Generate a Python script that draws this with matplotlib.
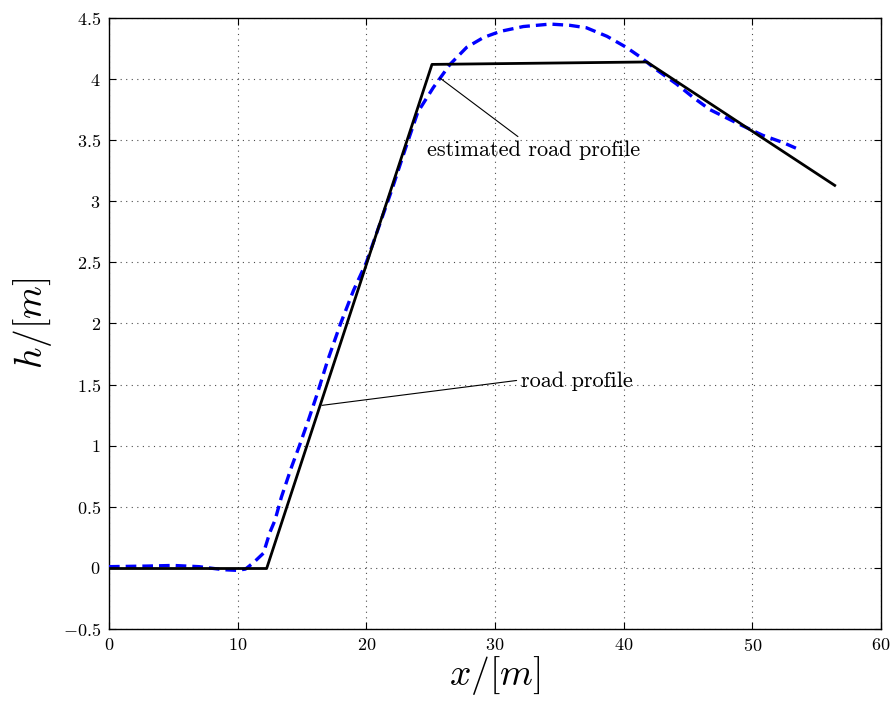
import matplotlib
matplotlib.use("Agg")
import matplotlib.pyplot as plt

plt.rcParams["font.family"] = "serif"
plt.rcParams["font.serif"] = ["cmr10", "DejaVu Serif"]
plt.rcParams["mathtext.fontset"] = "cm"
plt.rcParams["axes.formatter.use_mathtext"] = True

# road profile (piecewise linear)
road_x = [0.0, 12.25, 25.1, 41.8, 56.4]
road_h = [-0.005, -0.005, 4.12, 4.14, 3.13]

# estimated road profile
est_x = [0.0, 3.0, 5.0, 7.0, 8.9, 9.9, 10.6, 11.2, 12.0, 12.5, 12.9, 13.4, 14.2,
         14.8, 15.5, 16.2, 17.0, 18.0, 19.0, 20.0, 21.0, 22.0, 23.0, 24.0, 25.2,
         26.5, 27.8, 29.1, 30.4, 32.2, 34.3, 35.8, 37.1, 38.7, 40.2, 41.3, 42.5,
         44.1, 45.4, 46.7, 48.8, 50.8, 52.4, 53.7]
est_h = [0.01, 0.015, 0.02, 0.01, -0.015, -0.02, -0.01, 0.04, 0.12, 0.29, 0.39, 0.58, 0.83,
         1.0, 1.21, 1.43, 1.70, 2.0, 2.27, 2.5, 2.8, 3.1, 3.42, 3.73, 3.93,
         4.12, 4.26, 4.34, 4.39, 4.43, 4.45, 4.44, 4.42, 4.35, 4.26, 4.18, 4.08,
         3.96, 3.85, 3.75, 3.64, 3.54, 3.48, 3.42]

xticks = [0, 10, 20, 30, 40, 50, 60]
yticks = [-0.5, 0, 0.5, 1, 1.5, 2, 2.5, 3, 3.5, 4, 4.5]

fig = plt.figure(figsize=(8.95, 7.02), dpi=100)
ax = fig.add_axes([0.1218, 0.104, 0.8626, 0.8704])

ax.plot(est_x, est_h, color="blue", lw=2.4, ls=(0, (3.2, 1.8)), zorder=3)
ax.plot(road_x, road_h, color="black", lw=2.0, zorder=4)

ax.set_xlim(0, 60)
ax.set_ylim(-0.5, 4.5)
ax.set_xticks(xticks)
ax.set_yticks(yticks)
ax.set_xticklabels([f"${t}$" for t in xticks])
ax.set_yticklabels([f"${t:g}$" for t in yticks])
ax.tick_params(direction="in", top=True, right=True, labelsize=13, length=5, pad=6)
ax.grid(True, color="black", ls=(0, (1, 4)), lw=0.8, alpha=0.7)
for s in ax.spines.values():
    s.set_linewidth(1.0)

ax.set_xlabel(r"$x/[m]$", fontsize=27, labelpad=0)
ax.set_ylabel(r"$h/[m]$", fontsize=27, labelpad=6)

ax.annotate("estimated road profile", xy=(25.7, 4.01), xytext=(24.7, 3.42),
            fontsize=16, va="center", ha="left",
            arrowprops=dict(arrowstyle="-", color="black", lw=0.8,
                            relpos=(0.45, 1.0), shrinkA=1, shrinkB=0))
ax.annotate("road profile", xy=(16.55, 1.33), xytext=(32.0, 1.53),
            fontsize=16, va="center", ha="left",
            arrowprops=dict(arrowstyle="-", color="black", lw=0.8,
                            relpos=(0.0, 0.55), shrinkA=1, shrinkB=0))

fig.savefig("out.png", dpi=100)
